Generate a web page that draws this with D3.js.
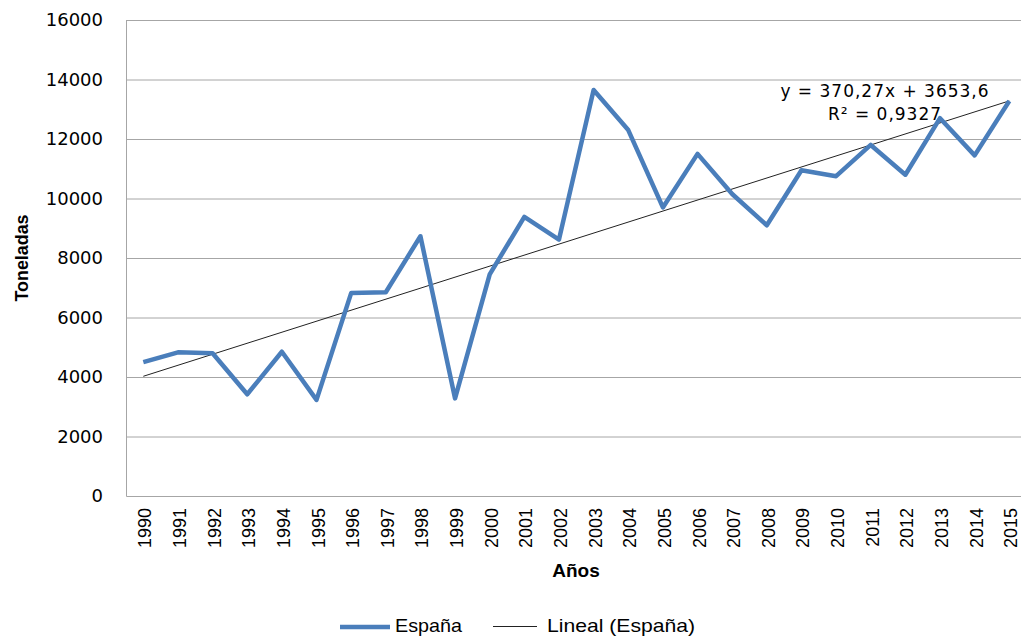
<!DOCTYPE html>
<html>
<head>
<meta charset="utf-8">
<script src="https://cdn.jsdelivr.net/npm/d3@7"></script>
<style>
  body { margin: 0; background: #fff; }
  .grid line { stroke: #a6a6a6; stroke-width: 1; }
  .frame { stroke: #a6a6a6; stroke-width: 1; fill: none; }
  .ytick { font-family: "DejaVu Sans", sans-serif; font-size: 18px; fill: #000; }
  .xtick { font-family: "Liberation Sans", Arial, sans-serif; font-size: 18px; fill: #000; }
  .title { font-family: "Liberation Sans", sans-serif; font-weight: bold; fill: #000; }
  .legend { font-family: "Liberation Sans", sans-serif; font-size: 19px; fill: #000; }
  .eq { font-family: "DejaVu Sans", sans-serif; font-size: 17px; letter-spacing: 1px; fill: #000; }
</style>
</head>
<body>
<div id="chart"></div>
<script>
var years = [1990, 1991, 1992, 1993, 1994, 1995, 1996, 1997, 1998, 1999, 2000, 2001, 2002,
             2003, 2004, 2005, 2006, 2007, 2008, 2009, 2010, 2011, 2012, 2013, 2014, 2015];
var espana = [4500, 4830, 4800, 3420, 4850, 3230, 6820, 6850, 8730, 3280, 7450, 9380, 8620,
              13650, 12300, 9700, 11500, 10150, 9100, 10950, 10750, 11800, 10800, 12700, 11450, 13280];
var yTicks = [0, 2000, 4000, 6000, 8000, 10000, 12000, 14000, 16000];
// trend line as shown in the chart label
var slope = 370.27;
var intercept = 3653.6;
var eqLines = ["y = 370,27x + 3653,6", "R\u00b2 = 0,9327"];
var seriesNames = ["Espa\u00f1a", "Lineal (Espa\u00f1a)"];

var w = 1021, h = 640;
var plotL = 126, plotT = 20, plotB = 496, plotR = 1026.6;

var svg = d3.select("#chart").append("svg")
    .attr("width", w)
    .attr("height", h);

var x = d3.scalePoint()
    .domain(years)
    .range([plotL, plotR])
    .padding(0.5);

var y = d3.scaleLinear()
    .domain([0, 16000])
    .range([plotB, plotT]);

// gridlines
svg.append("g")
    .attr("class", "grid")
    .selectAll("line")
    .data(yTicks.filter(function(d) { return d > 0; }))
    .enter().append("line")
    .attr("x1", plotL)
    .attr("x2", plotR)
    .attr("y1", function(d) { return y(d) + 0.5; })
    .attr("y2", function(d) { return y(d) + 0.5; });

// axes frame (left + bottom)
svg.append("path")
    .attr("class", "frame")
    .attr("d", "M" + (plotL + 0.5) + "," + plotT + "V" + (plotB + 0.5) + "H" + plotR);

// y tick labels
svg.append("g")
    .selectAll("text")
    .data(yTicks)
    .enter().append("text")
    .attr("class", "ytick")
    .attr("x", 103)
    .attr("y", function(d) { return y(d); })
    .attr("dy", "0.36em")
    .attr("text-anchor", "end")
    .text(function(d) { return d; });

// x tick labels (rotated)
svg.append("g")
    .selectAll("text")
    .data(years)
    .enter().append("text")
    .attr("class", "xtick")
    .attr("transform", function(d) { return "translate(" + (x(d) + 8) + ",508) rotate(-90)"; })
    .attr("text-anchor", "end")
    .text(function(d) { return d; });

// axis titles
svg.append("text")
    .attr("class", "title")
    .attr("transform", "translate(28,258) rotate(-90)")
    .attr("text-anchor", "middle")
    .attr("textLength", 87)
    .attr("lengthAdjust", "spacingAndGlyphs")
    .style("font-size", "19px")
    .text("Toneladas");

svg.append("text")
    .attr("class", "title")
    .attr("x", 576)
    .attr("y", 577)
    .attr("text-anchor", "middle")
    .style("font-size", "19px")
    .text("A\u00f1os");

// trend line
svg.append("line")
    .attr("x1", x(years[0]))
    .attr("y1", y(slope * 1 + intercept))
    .attr("x2", x(years[years.length - 1]))
    .attr("y2", y(slope * years.length + intercept))
    .attr("stroke", "#222")
    .attr("stroke-width", 1);

// data line
var line = d3.line()
    .x(function(d, i) { return x(years[i]); })
    .y(function(d) { return y(d); });

svg.append("path")
    .datum(espana)
    .attr("d", line)
    .attr("fill", "none")
    .attr("stroke", "#4a7ebb")
    .attr("stroke-width", 4.5)
    .attr("stroke-linejoin", "round");

// equation label
svg.append("g")
    .selectAll("text")
    .data(eqLines)
    .enter().append("text")
    .attr("class", "eq")
    .attr("x", 885)
    .attr("y", function(d, i) { return 97 + i * 23; })
    .attr("text-anchor", "middle")
    .text(function(d) { return d; });

// legend
var lg = svg.append("g");
lg.append("line")
    .attr("x1", 340).attr("x2", 390)
    .attr("y1", 627).attr("y2", 627)
    .attr("stroke", "#4a7ebb").attr("stroke-width", 4.5);
lg.append("text")
    .attr("class", "legend")
    .attr("x", 395).attr("y", 632)
    .attr("textLength", 67)
    .attr("lengthAdjust", "spacingAndGlyphs")
    .text(seriesNames[0]);
lg.append("line")
    .attr("x1", 493).attr("x2", 537)
    .attr("y1", 626.5).attr("y2", 626.5)
    .attr("stroke", "#222").attr("stroke-width", 1);
lg.append("text")
    .attr("class", "legend")
    .attr("x", 547).attr("y", 632)
    .attr("textLength", 148)
    .attr("lengthAdjust", "spacingAndGlyphs")
    .text(seriesNames[1]);
</script>
</body>
</html>
